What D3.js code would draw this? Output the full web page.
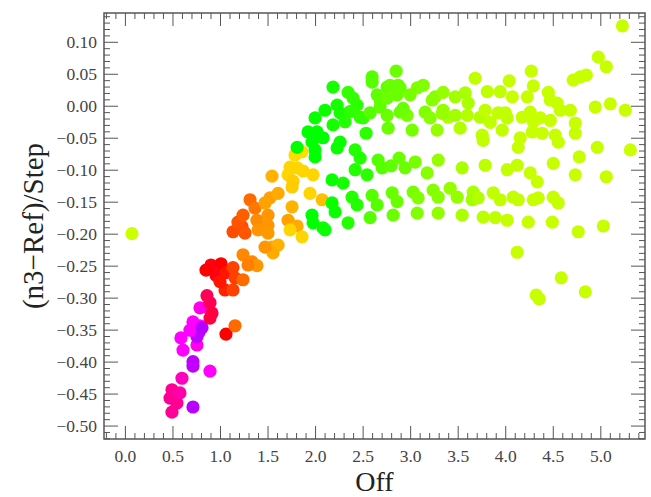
<!DOCTYPE html>
<html>
<head>
<meta charset="utf-8">
<script src="https://cdn.jsdelivr.net/npm/d3@7"></script>
<style>
  html, body { margin: 0; padding: 0; background: #fff; }
  svg { display: block; }
</style>
</head>
<body>
<svg id="chart" width="651" height="497"></svg>
<script>
// ---- data ----
const off = [
  0.074,
  0.495,0.474,0.547,0.495,0.579,0.600,0.716,0.895,0.716,0.716,0.611,0.589,0.758,0.758,0.779,0.684,0.716,0.789,0.811,0.863,0.789,0.895,0.863,0.916,0.895,
  0.905,1.011,0.958,0.853,1.063,1.137,1.158,1.242,1.053,1.137,1.000,1.063,1.158,
  1.242,1.337,1.389,1.295,1.547,1.611,1.558,1.474,1.137,1.232,1.189,1.263,1.242,1.316,1.368,1.389,1.400,1.505,1.505,1.505,1.474,1.526,1.611,1.547,
  1.737,1.811,1.874,1.716,1.768,1.758,1.979,1.789,1.863,1.947,1.758,1.716,1.811,1.737,1.863,2.074,
  1.811,1.926,2.021,1.968,2.000,2.000,2.084,2.000,2.105,2.189,2.232,2.263,2.316,2.189,2.263,2.232,2.421,2.474,2.179,2.295,2.421,2.547,
  1.968,1.979,2.084,2.179,2.211,2.389,2.442,2.347,
  2.347,2.400,2.442,2.368,2.474,2.505,2.579,2.537,2.600,2.600,2.653,2.684,2.758,2.853,2.874,2.684,2.758,2.768,2.895,2.895,2.968,3.021,
  3.074,3.137,3.158,3.211,3.263,3.347,3.284,3.347,3.400,3.474,3.526,3.579,3.600,3.684,3.737,3.789,3.811,3.758,3.768,3.926,3.947,3.968,4.021,
  4.042,4.074,4.158,4.137,4.179,4.232,4.274,4.295,4.284,4.295,4.368,4.389,4.453,4.474,4.547,4.474,4.526,4.558,4.579,4.684,4.737,4.737,
  4.716,4.789,4.853,4.979,5.063,5.232,4.947,5.105,5.263,4.968,5.316,
  2.789,2.863,2.758,
  2.663,2.705,2.800,2.884,2.947,3.053,3.179,3.295,3.547,3.789,4.021,4.126,4.263,4.337,4.505,4.737,4.779,5.063,
  2.600,2.653,2.811,2.863,3.032,3.084,3.242,3.295,3.421,3.495,3.663,3.653,3.716,3.874,3.947,4.084,4.137,4.295,4.347,4.505,4.558,
  2.105,2.579,2.821,3.074,3.295,3.547,3.768,3.895,4.021,4.242,4.495,4.768,5.032,
  4.126,4.589,4.326,4.358,4.842,
  3.000,3.232,3.474,3.611,3.842,4.000,2.926,3.337,4.263
];
const dev = [
  -0.200,
  -0.479,-0.457,-0.465,-0.444,-0.449,-0.426,-0.471,-0.415,-0.400,-0.407,-0.382,-0.363,-0.374,-0.361,-0.354,-0.351,-0.338,-0.344,-0.347,-0.315,-0.316,-0.308,-0.297,-0.324,-0.332,
  -0.249,-0.247,-0.265,-0.257,-0.261,-0.253,-0.269,-0.272,-0.288,-0.288,-0.275,-0.357,-0.344,
  -0.233,-0.244,-0.250,-0.249,-0.221,-0.218,-0.230,-0.221,-0.197,-0.189,-0.182,-0.199,-0.171,-0.147,-0.160,-0.179,-0.194,-0.171,-0.187,-0.199,-0.152,-0.144,-0.137,-0.110,
  -0.096,-0.097,-0.102,-0.108,-0.118,-0.127,-0.108,-0.077,-0.072,-0.137,-0.158,-0.179,-0.188,-0.194,-0.205,-0.147,
  -0.065,-0.041,-0.041,-0.057,-0.069,-0.080,-0.050,-0.019,-0.007,0.029,0.001,-0.011,-0.025,-0.030,-0.057,-0.066,-0.069,-0.082,-0.116,-0.121,-0.100,-0.108,
  -0.171,-0.183,-0.191,-0.152,-0.166,-0.143,-0.155,-0.183,
  0.021,0.012,0.001,-0.009,-0.018,-0.019,-0.011,-0.043,0.045,0.037,0.017,0.009,0.029,0.054,0.032,-0.002,-0.015,-0.035,0.028,-0.010,-0.015,-0.038,
  0.028,0.032,-0.010,-0.019,0.014,0.021,-0.038,-0.007,-0.018,-0.015,-0.035,0.020,-0.015,0.043,-0.018,-0.007,0.022,-0.046,-0.054,-0.011,0.022,-0.038,-0.019,
  0.039,0.014,-0.050,-0.065,-0.018,0.014,0.054,0.031,-0.041,-0.025,-0.019,-0.043,0.021,0.009,0.004,-0.023,-0.046,-0.057,-0.007,-0.007,-0.027,-0.043,
  0.040,0.045,0.048,0.076,0.061,0.125,-0.002,0.003,-0.007,-0.065,-0.069,
  0.032,0.017,0.012,
  -0.085,-0.097,-0.094,-0.082,-0.097,-0.088,-0.105,-0.085,-0.097,-0.093,-0.100,-0.093,-0.105,-0.119,-0.090,-0.108,-0.080,-0.111,
  -0.140,-0.155,-0.136,-0.150,-0.135,-0.144,-0.132,-0.143,-0.129,-0.143,-0.135,-0.147,-0.144,-0.136,-0.147,-0.143,-0.147,-0.147,-0.144,-0.143,-0.152,
  -0.194,-0.175,-0.171,-0.168,-0.168,-0.171,-0.174,-0.175,-0.179,-0.182,-0.182,-0.197,-0.188,
  -0.229,-0.269,-0.296,-0.302,-0.291,
  0.017,0.009,0.014,0.004,-0.026,-0.011,-0.004,-0.012,-0.010
];
const hue = [
  72,
  325,325,325,325,320,315,283,300,285,285,300,300,305,285,285,300,300,300,283,300,305,340,340,345,345,
  355,0,355,0,5,15,15,25,8,15,5,0,25,
  32,32,35,30,40,42,40,35,18,18,20,20,22,25,28,33,35,35,35,36,38,38,40,42,
  50,50,50,50,48,48,50,52,52,50,42,38,40,50,50,45,
  120,120,120,120,120,120,120,118,118,115,115,115,112,115,118,118,112,112,118,115,112,110,
  120,120,118,118,118,112,112,112,
  108,108,110,110,108,108,100,110,100,100,98,98,98,95,95,98,95,95,95,95,92,92,
  90,90,90,88,88,85,85,85,80,82,78,80,78,75,78,75,75,75,75,75,75,75,75,
  73,73,73,73,73,73,73,73,73,73,73,73,73,73,73,73,73,73,73,73,73,73,
  73,73,73,73,73,73,73,73,73,73,72,
  95,95,95,
  100,100,98,95,95,92,88,85,80,76,74,74,73,73,73,73,73,73,
  100,100,95,95,92,90,88,88,85,85,80,82,78,75,75,74,74,73,73,73,73,
  118,100,95,90,86,80,76,75,74,73,73,73,73,
  73,73,73,73,73,
  92,88,82,80,75,75,95,85,73
];
const xMajorTicks = [0.0, 0.5, 1.0, 1.5, 2.0, 2.5, 3.0, 3.5, 4.0, 4.5, 5.0];
const yMajorTicks = [-0.50, -0.45, -0.40, -0.35, -0.30, -0.25, -0.20, -0.15, -0.10, -0.05, 0.00, 0.05, 0.10];
const xLabel = "Off";
const yLabel = "(n3\u2212Ref)/Step";

// ---- layout ----
const svg = d3.select("#chart");
const L = 104, R = 645, T = 13, B = 439;
const x = d3.scaleLinear().domain([-0.22, 5.47]).range([L, R]);
const y = d3.scaleLinear().domain([-0.521, 0.145]).range([B, T]);

const xMinor = d3.range(-2, 55).map(i => i / 10).filter(v => !xMajorTicks.some(m => Math.abs(m - v) < 1e-6));
const yMinor = d3.range(-52, 15).map(i => i / 100).filter(v => !yMajorTicks.some(m => Math.abs(m - v) < 1e-6));

const fmtX = d3.format(".1f");
const fmtY = v => d3.format(".2f")(v).replace("-", "\u2212");
const font = "'Liberation Serif', 'Times New Roman', serif";
const axisColor = "#555";

// points
const pts = off.map((o, i) => ({ o, d: dev[i], h: hue[i] }));
svg.append("g").selectAll("circle").data(pts).join("circle")
  .attr("cx", p => x(p.o))
  .attr("cy", p => y(p.d))
  .attr("r", 6.6)
  .attr("fill", p => d3.hsl(p.h, 1, 0.5).formatHex());

function styleAxis(g) {
  g.select(".domain").remove();
  g.selectAll("line").attr("stroke", axisColor).attr("stroke-width", 1);
  g.selectAll("text").attr("fill", "#444").style("font-family", font).style("font-size", "17.5px");
}

// bottom
svg.append("g").attr("transform", `translate(0,${B})`)
  .call(d3.axisBottom(x).tickValues(xMajorTicks).tickFormat(fmtX).tickSize(-13).tickSizeOuter(0).tickPadding(10.5))
  .call(styleAxis);
svg.append("g").attr("transform", `translate(0,${B})`)
  .call(d3.axisBottom(x).tickValues(xMinor).tickFormat("").tickSize(-6).tickSizeOuter(0))
  .call(styleAxis);
// top
svg.append("g").attr("transform", `translate(0,${T})`)
  .call(d3.axisTop(x).tickValues(xMajorTicks).tickFormat("").tickSize(-13).tickSizeOuter(0))
  .call(styleAxis);
svg.append("g").attr("transform", `translate(0,${T})`)
  .call(d3.axisTop(x).tickValues(xMinor).tickFormat("").tickSize(-6).tickSizeOuter(0))
  .call(styleAxis);
// left
svg.append("g").attr("transform", `translate(${L},0)`)
  .call(d3.axisLeft(y).tickValues(yMajorTicks).tickFormat(fmtY).tickSize(-14).tickSizeOuter(0).tickPadding(7))
  .call(styleAxis);
svg.append("g").attr("transform", `translate(${L},0)`)
  .call(d3.axisLeft(y).tickValues(yMinor).tickFormat("").tickSize(-6).tickSizeOuter(0))
  .call(styleAxis);
// right
svg.append("g").attr("transform", `translate(${R},0)`)
  .call(d3.axisRight(y).tickValues(yMajorTicks).tickFormat("").tickSize(-14).tickSizeOuter(0))
  .call(styleAxis);
svg.append("g").attr("transform", `translate(${R},0)`)
  .call(d3.axisRight(y).tickValues(yMinor).tickFormat("").tickSize(-6).tickSizeOuter(0))
  .call(styleAxis);

// frame
svg.append("rect").attr("x", L).attr("y", T).attr("width", R - L).attr("height", B - T)
  .attr("fill", "none").attr("stroke", axisColor).attr("stroke-width", 1.5);

// axis titles
svg.append("text").attr("x", (L + R) / 2).attr("y", 490.8)
  .attr("text-anchor", "middle").attr("fill", "#222")
  .style("font-family", font).style("font-size", "28px").text(xLabel);
svg.append("text").attr("transform", `translate(43,${(T + B) / 2}) rotate(-90)`)
  .attr("text-anchor", "middle").attr("fill", "#222")
  .style("font-family", font).style("font-size", "29px").text(yLabel);
</script>
</body>
</html>
